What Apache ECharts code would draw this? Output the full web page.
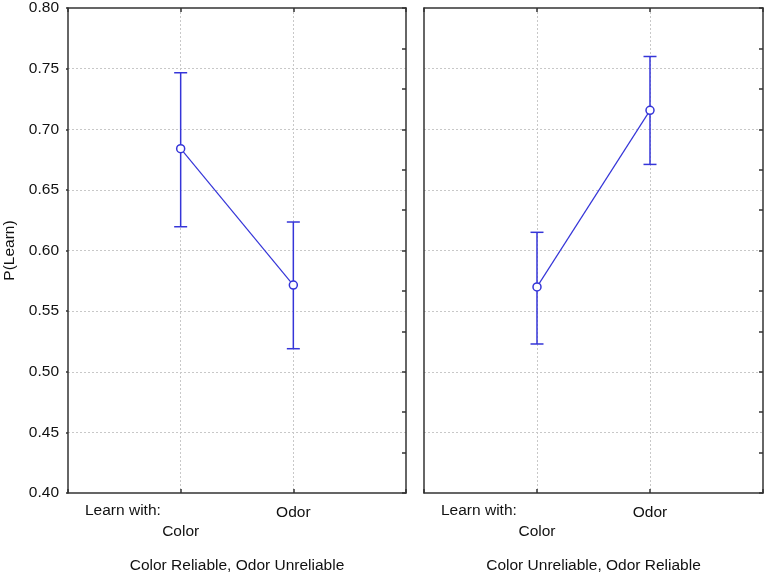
<!DOCTYPE html>
<html>
    <head>
        <meta charset="utf-8">
        <style>
            html, body { margin: 0; padding: 0; background: #fff; }
            #main { width: 766px; height: 574px; }
        </style>
    </head>
    <body>
        <div id="main"></div>
        <script src="https://cdn.jsdelivr.net/npm/echarts@6/dist/echarts.min.js"></script>
        <script>
            // categories on the x axis (placed at 1 and 2 on a 0..3 value axis)
            var categories = ['Color', 'Odor'];
            var catPos = [1, 2];
            var panelTitles = ['Color Reliable, Odor Unreliable', 'Color Unreliable, Odor Reliable'];

            // means and confidence limits
            var meanReliableColor = [0.684, 0.5715];
            var upperReliableColor = [0.7466, 0.6235];
            var lowerReliableColor = [0.6196, 0.519];

            var meanReliableOdor = [0.570, 0.7156];
            var upperReliableOdor = [0.615, 0.760];
            var lowerReliableOdor = [0.5229, 0.671];

            var blue = '#3535d8';
            var frame = '#333';
            var font = 'Liberation Sans, Arial, sans-serif';
            var fs = 15.5;

            var chart = echarts.init(document.getElementById('main'));

            var gridLine = { color: '#c8c8c8', type: [2, 2], width: 1 };

            function xAxisFor(idx) {
                return {
                    type: 'value',
                    gridIndex: idx,
                    min: 0,
                    max: 3,
                    interval: 1,
                    axisLine: { show: true, onZero: false, lineStyle: { color: frame, width: 1.5 } },
                    axisTick: { show: true, inside: true, length: 4, lineStyle: { color: frame, width: 1.5 } },
                    splitLine: { show: true, showMinLine: false, showMaxLine: false, lineStyle: gridLine },
                    axisLabel: {
                        show: true,
                        fontFamily: font,
                        fontSize: fs,
                        color: '#111',
                        margin: 10,
                        lineHeight: 19,
                        verticalAlign: 'top',
                        formatter: function (v) {
                            if (v === catPos[0]) return '\n' + categories[0];
                            if (v === catPos[1]) return categories[1];
                            return '';
                        }
                    },
                    name: panelTitles[idx],
                    nameLocation: 'middle',
                    nameGap: 65,
                    nameTextStyle: { fontFamily: font, fontSize: fs, color: '#111' }
                };
            }

            function topAxisFor(idx) {
                return {
                    type: 'value',
                    gridIndex: idx,
                    position: 'top',
                    min: 0,
                    max: 3,
                    interval: 1,
                    axisLine: { show: true, onZero: false, lineStyle: { color: frame, width: 1.5 } },
                    axisTick: { show: true, inside: true, length: 4, lineStyle: { color: frame, width: 1.5 } },
                    splitLine: { show: false },
                    axisLabel: { show: false }
                };
            }

            function leftAxisFor(idx) {
                return {
                    type: 'value',
                    gridIndex: idx,
                    position: 'left',
                    min: 0.40,
                    max: 0.80,
                    interval: 0.05,
                    axisLine: { show: true, onZero: false, lineStyle: { color: frame, width: 1.5 } },
                    axisTick: { show: idx === 0, length: 2, lineStyle: { color: frame, width: 1.5 } },
                    splitLine: { show: true, showMinLine: false, showMaxLine: false, lineStyle: gridLine },
                    axisLabel: {
                        show: idx === 0,
                        fontFamily: font,
                        fontSize: fs,
                        color: '#111',
                        margin: 9,
                        formatter: function (v) { return v.toFixed(2); }
                    },
                    name: idx === 0 ? 'P(Learn)' : '',
                    nameLocation: 'middle',
                    nameGap: 50,
                    nameTextStyle: { fontFamily: font, fontSize: fs, color: '#111' }
                };
            }

            function rightAxisFor(idx) {
                return {
                    type: 'value',
                    gridIndex: idx,
                    position: 'right',
                    min: 0.40,
                    max: 0.80,
                    interval: 0.4 / 12,
                    axisLine: { show: true, onZero: false, lineStyle: { color: frame, width: 1.5 } },
                    axisTick: { show: true, inside: true, length: 4, lineStyle: { color: frame, width: 1.5 } },
                    splitLine: { show: false },
                    axisLabel: { show: false }
                };
            }

            function toPoints(means) {
                return means.map(function (m, i) { return [catPos[i], m]; });
            }

            function toBars(lo, hi) {
                return lo.map(function (l, i) { return [catPos[i], l, hi[i]]; });
            }

            function errorBars(idx, lo, hi) {
                return {
                    type: 'custom',
                    xAxisIndex: idx * 2,
                    yAxisIndex: idx * 2,
                    data: toBars(lo, hi),
                    z: 3,
                    renderItem: function (params, api) {
                        var top = api.coord([api.value(0), api.value(2)]);
                        var bot = api.coord([api.value(0), api.value(1)]);
                        var hw = 6.5;
                        var style = { stroke: blue, lineWidth: 1.5, fill: null };
                        return {
                            type: 'group',
                            children: [
                                { type: 'line', shape: { x1: top[0], y1: top[1], x2: bot[0], y2: bot[1] }, style: style },
                                { type: 'line', shape: { x1: top[0] - hw, y1: top[1], x2: top[0] + hw, y2: top[1] }, style: style },
                                { type: 'line', shape: { x1: bot[0] - hw, y1: bot[1], x2: bot[0] + hw, y2: bot[1] }, style: style }
                            ]
                        };
                    }
                };
            }

            function meanLine(idx, means) {
                return {
                    type: 'line',
                    xAxisIndex: idx * 2,
                    yAxisIndex: idx * 2,
                    data: toPoints(means),
                    z: 4,
                    symbol: 'circle',
                    symbolSize: 8,
                    showAllSymbol: true,
                    itemStyle: { color: '#fff', borderColor: blue, borderWidth: 1.5 },
                    lineStyle: { color: blue, width: 1.2 },
                    animation: false
                };
            }

            var gridBase = { top: 8, height: 485, show: false, containLabel: false, outerBoundsMode: 'none' };

            chart.setOption({
                backgroundColor: '#fff',
                animation: false,
                grid: [
                    Object.assign({ left: 68, width: 338 }, gridBase),
                    Object.assign({ left: 424, width: 339 }, gridBase)
                ],
                xAxis: [xAxisFor(0), topAxisFor(0), xAxisFor(1), topAxisFor(1)],
                yAxis: [leftAxisFor(0), rightAxisFor(0), leftAxisFor(1), rightAxisFor(1)],
                graphic: [
                    { type: 'text', left: 85, top: 503, style: { text: 'Learn with:', font: fs + 'px ' + font, fill: '#111' } },
                    { type: 'text', left: 441, top: 503, style: { text: 'Learn with:', font: fs + 'px ' + font, fill: '#111' } }
                ],
                series: [
                    errorBars(0, lowerReliableColor, upperReliableColor),
                    meanLine(0, meanReliableColor),
                    errorBars(1, lowerReliableOdor, upperReliableOdor),
                    meanLine(1, meanReliableOdor)
                ]
            });
        </script>
    </body>
</html>
